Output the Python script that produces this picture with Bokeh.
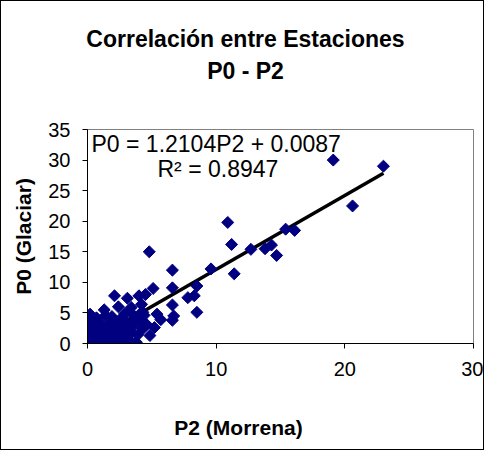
from bokeh.plotting import figure
from bokeh.models import Range1d, FixedTicker, Label
from bokeh.embed import file_html
from bokeh.resources import INLINE
import math

# --- data ---
p2_morrena = [19.1, 23.0, 20.6, 10.9, 11.2, 15.4, 16.1, 12.7, 13.8, 14.3, 14.7, 11.4, 9.6,
              8.5, 8.3, 8.5, 4.8, 6.6, 6.6, 7.8, 6.7, 6.6, 5.7, 6.6, 5.1, 4.5, 2.1, 3.1,
              4.0, 1.3, 2.4, 3.4, 4.3, 4.2, 0.2, 4.85, 3.7, 2.7, 3.8, 3.6, 4.1,
              0.0, 0.1, 0.0, 0.2, 0.1, 0.3, 0.2, 0.4, 0.5, 0.6, 0.5, 0.8, 0.9, 1.0, 1.1,
              1.2, 1.3, 1.5, 1.6, 1.7, 1.9, 2.0, 2.1, 2.3, 2.4, 2.5, 2.6, 2.8, 3.0, 3.1,
              3.2, 3.4, 3.5, 3.7, 3.9, 4.0, 4.3, 4.6, 4.4, 0.7, 1.4, 1.9, 2.9, 0.3, 0.6,
              1.0, 1.8, 2.2, 3.0, 0.1, 0.2, 0.0, 0.4, 5.2, 5.4, 3.3]
p0_glaciar = [30.0, 29.0, 22.5, 19.8, 16.2, 18.7, 18.5, 15.4, 15.5, 16.1, 14.4, 11.4, 12.2,
              9.4, 7.8, 5.1, 15.0, 12.0, 9.1, 7.5, 4.5, 6.3, 3.9, 3.8, 9.0, 8.0, 7.8, 7.4,
              7.8, 5.5, 6.0, 5.9, 5.1, 6.4, 4.8, 1.3, 0.0, 0.0, 0.2, 3.3, 4.9,
              0.0, 0.4, 1.0, 1.6, 2.3, 3.0, 3.7, 0.1, 0.9, 2.0, 2.7, 0.4, 1.4, 2.3, 3.2,
              0.0, 1.0, 1.9, 2.9, 0.5, 1.5, 2.4, 3.6, 0.9, 1.8, 2.9, 4.1, 1.3, 2.2, 3.4,
              0.7, 1.8, 2.7, 4.3, 1.4, 3.6, 2.4, 3.1, 4.6, 4.2, 4.6, 4.4, 4.9, 0.6, 1.3,
              0.8, 3.3, 0.3, 0.4, 0.2, 0.0, 0.6, 1.9, 2.6, 4.8, 5.2]

trend_slope = 1.2104
trend_intercept = 0.0087
equation_text = "P0 = 1.2104P2 + 0.0087"
r2_text = "R\u00b2 = 0.8947"

title_line1 = "Correlación entre Estaciones"
title_line2 = "P0 - P2"
x_title = "P2 (Morrena)"
y_title = "P0 (Glaciar)"
x_ticks = [0, 10, 20, 30]
y_ticks = [0, 5, 10, 15, 20, 25, 30, 35]

FONT = "Liberation Sans"

p = figure(width=484, height=450, output_backend="svg", toolbar_location=None,
           x_range=Range1d(0, 30), y_range=Range1d(0, 35),
           min_border_left=86, min_border_right=12, min_border_top=128, min_border_bottom=108)
p.title = None
p.grid.visible = False
p.background_fill_color = "white"
p.border_fill_color = "white"
p.outline_line_color = "#808080"
p.outline_line_width = 1
p.styles = {"border": "1px solid #000000"}

for ax, ticks in ((p.xaxis, x_ticks), (p.yaxis, y_ticks)):
    ax.ticker = FixedTicker(ticks=ticks)
    ax.axis_line_color = "#000000"
    ax.major_tick_line_color = "#000000"
    ax.major_tick_out = 5
    ax.major_tick_in = 0
    ax.minor_tick_line_color = None
    ax.major_label_text_font = FONT
    ax.major_label_text_font_size = "20px"
    ax.major_label_text_color = "#000000"

p.xaxis.major_label_standoff = 13
p.yaxis.major_label_standoff = 12

p.yaxis.axis_label = y_title
p.yaxis.axis_label_text_font = FONT
p.yaxis.axis_label_text_font_style = "bold"
p.yaxis.axis_label_text_font_size = "21px"
p.yaxis.axis_label_text_color = "#000000"
p.yaxis.axis_label_standoff = 10

# trend line over the data's x extent
x0, x1 = min(p2_morrena), max(p2_morrena)
p.line([x0, x1], [trend_slope * x0 + trend_intercept, trend_slope * x1 + trend_intercept],
       line_color="#000000", line_width=3.5)

p.scatter(p2_morrena, p0_glaciar, marker="square", size=8.5, angle=math.pi / 4,
          fill_color="#000080", line_color="#000080")

def make_label(text, x, y, size, bold=False, align="left"):
    return Label(x=x, y=y, x_units="screen", y_units="screen", text=text,
                 text_font=FONT, text_font_size=size,
                 text_font_style="bold" if bold else "normal",
                 text_align=align, text_baseline="alphabetic", text_color="#000000")

p.add_layout(make_label(equation_text, 4, 200, "23px"))
p.add_layout(make_label(r2_text, 70, 175, "23px"))
p.add_layout(make_label(title_line1, 158, 91, "23px", bold=True, align="center"), "above")
p.add_layout(make_label(title_line2, 158, 33, "23px", bold=True, align="center"), "above")
p.add_layout(make_label(x_title, 151, -26, "21px", bold=True, align="center"), "below")

open("out.html", "w").write(file_html(p, INLINE))
